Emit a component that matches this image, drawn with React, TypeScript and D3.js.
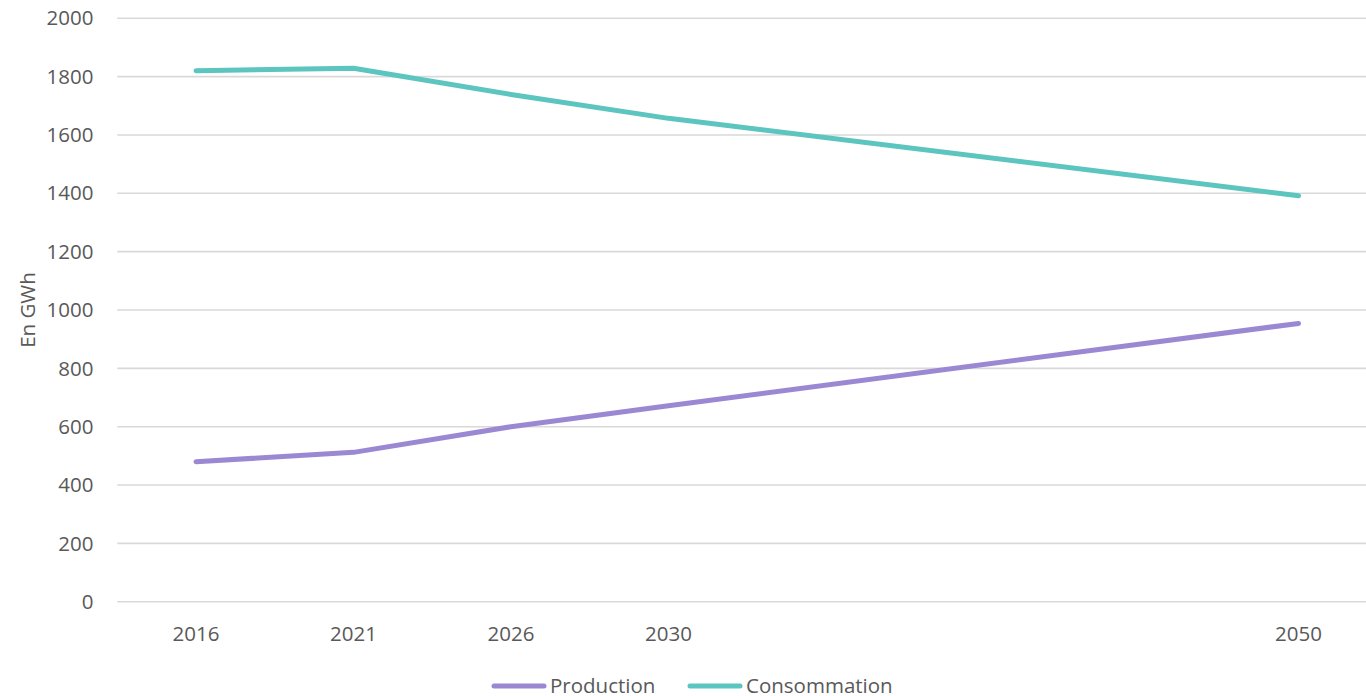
import { useEffect, useRef } from 'react'
import * as d3 from 'd3'

// Slots on the category axis (Excel-style, blanks between 2030 and 2050)
const years = ['2016', '2021', '2026', '2030', '', '', '', '2050']
const production: (number | null)[] = [480, 512, 600, 672, null, null, null, 954]
const consommation: (number | null)[] = [1820, 1829, 1739, 1657, null, null, null, 1392]
const yTicks = [0, 200, 400, 600, 800, 1000, 1200, 1400, 1600, 1800, 2000]

const series = [
  { name: 'Production', values: production, color: '#9b88d3' },
  { name: 'Consommation', values: consommation, color: '#5cc5bf' },
]

const W = 1366
const H = 696
const FONT = '"Open Sans", sans-serif'
const TEXT = '#595959'

const App = () => {
  const svgRef = useRef<SVGSVGElement | null>(null)

  useEffect(() => {
    if (!svgRef.current) return
    const svg = d3.select(svgRef.current)
    svg.selectAll('*').remove()

    const x = d3
      .scaleBand<number>()
      .domain(years.map((_, i) => i))
      .range([117.25, 117.25 + 157.5 * years.length])
    const y = d3.scaleLinear().domain([0, 2000]).range([601.7, 18.3])
    const cx = (i: number) => (x(i) ?? 0) + x.bandwidth() / 2

    // gridlines
    svg
      .append('g')
      .selectAll('line')
      .data(yTicks)
      .enter()
      .append('line')
      .attr('x1', x.range()[0])
      .attr('x2', x.range()[1])
      .attr('y1', d => y(d))
      .attr('y2', d => y(d))
      .attr('stroke', '#d9d9d9')
      .attr('stroke-width', 1.6)

    // y tick labels
    svg
      .append('g')
      .selectAll('text')
      .data(yTicks)
      .enter()
      .append('text')
      .attr('x', 93.5)
      .attr('y', d => y(d))
      .attr('dy', '0.35em')
      .attr('text-anchor', 'end')
      .attr('font-family', FONT)
      .attr('font-size', 20.5)
      .attr('fill', TEXT)
      .text(d => d)

    // x labels
    svg
      .append('g')
      .selectAll('text')
      .data(years.map((label, i) => ({ label, i })).filter(d => d.label))
      .enter()
      .append('text')
      .attr('x', d => cx(d.i))
      .attr('y', 640.5)
      .attr('text-anchor', 'middle')
      .attr('font-family', FONT)
      .attr('font-size', 20.5)
      .attr('fill', TEXT)
      .text(d => d.label)

    // y axis title
    svg
      .append('text')
      .attr('transform', 'translate(35,310) rotate(-90)')
      .attr('text-anchor', 'middle')
      .attr('font-family', FONT)
      .attr('font-size', 20.5)
      .attr('fill', TEXT)
      .text('En GWh')

    // lines
    const line = d3
      .line<{ i: number; v: number }>()
      .x(d => cx(d.i))
      .y(d => y(d.v))

    series.forEach(s => {
      const pts = s.values
        .map((v, i) => ({ i, v: v as number }))
        .filter(d => s.values[d.i] !== null)
      svg
        .append('path')
        .datum(pts)
        .attr('d', line)
        .attr('fill', 'none')
        .attr('stroke', s.color)
        .attr('stroke-width', 5)
        .attr('stroke-linecap', 'round')
        .attr('stroke-linejoin', 'round')
    })

    // legend
    const legendX = [494, 690]
    series.forEach((s, k) => {
      const g = svg.append('g').attr('transform', `translate(${legendX[k]},686)`)
      g.append('line')
        .attr('x1', 0)
        .attr('x2', 50)
        .attr('stroke', s.color)
        .attr('stroke-width', 5)
        .attr('stroke-linecap', 'round')
      g.append('text')
        .attr('x', 56)
        .attr('y', 0)
        .attr('dy', '0.35em')
        .attr('font-family', FONT)
        .attr('font-size', 20.5)
        .attr('fill', TEXT)
        .text(s.name)
    })
  }, [])

  return (
    <div style={{ position: 'absolute', left: 0, top: 0, width: W, height: H, overflow: 'hidden', background: 'white' }}>
      <svg ref={svgRef} width={W} height={H} style={{ display: 'block' }} />
    </div>
  )
}

export default App
